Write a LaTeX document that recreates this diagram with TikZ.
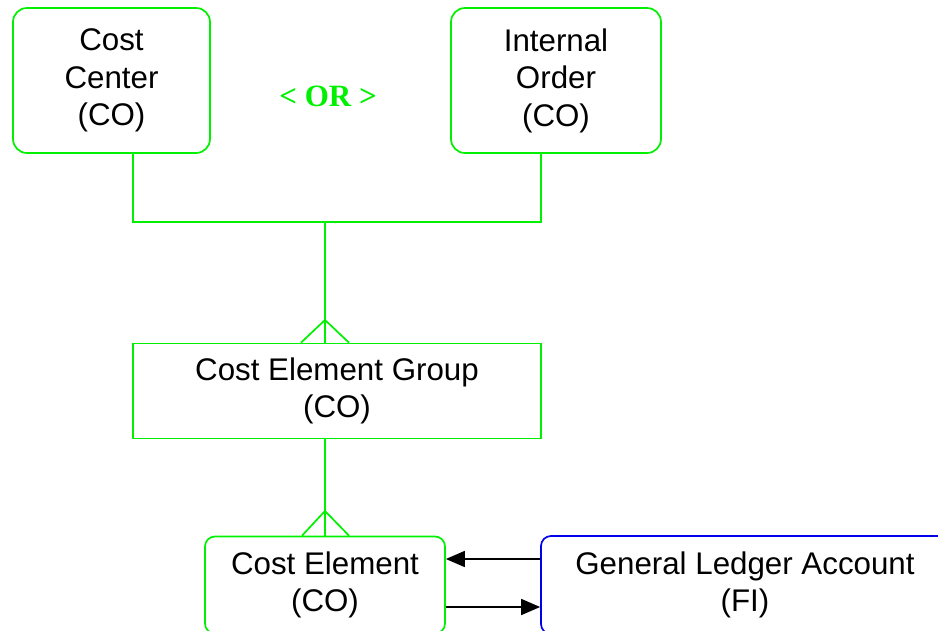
\documentclass[tikz,border=0pt]{standalone}
\usepackage{fontspec}
\setmainfont{Liberation Sans}
\newfontfamily\orfont{Liberation Serif}
\usetikzlibrary{arrows.meta}
\definecolor{erdgreen}{RGB}{0,240,0}
\definecolor{erdblue}{RGB}{0,0,235}
\tikzset{
  ent/.style={draw=erdgreen, line width=1.7pt, align=center, inner sep=0pt,
    font=\fontsize{31.3}{37.5}\selectfont, text=black},
  rnd/.style={rounded corners=14pt},
  link/.style={draw=erdgreen, line width=1.7pt},
  rel/.style={draw=black, line width=1.6pt, -{Triangle[length=19pt,width=16pt]}}
}
\begin{document}
\begin{tikzpicture}[x=1pt,y=-1pt]
\useasboundingbox (0,0) rectangle (938,630);
\clip (0,0) rectangle (938,630);
\node[ent, rnd, minimum width=197pt, minimum height=145pt] (cc) at (111.5,80.5) {Cost\\Center\\(CO)};
\node[ent, rnd, minimum width=210pt, minimum height=145pt] (io) at (556,80.5) {Internal\\Order\\(CO)};
\node[font=\orfont\bfseries\fontsize{31}{36}\selectfont, text=erdgreen] (or) at (328,96) {< OR >};
\node[ent, minimum width=408pt, minimum height=95pt] (ceg) at (337,391) {Cost Element Group\\(CO)};
\node[ent, rounded corners=10pt, minimum width=240pt, minimum height=97pt] (ce) at (325,585) {Cost Element\\(CO)};
\node[ent, draw=erdblue, rounded corners=10pt, minimum width=408pt, minimum height=98pt] (gl) at (745,585) {General Ledger Account\\(FI)};
\coordinate (j) at (325,222);
\coordinate (a1) at (325,320);
\coordinate (a2) at (325,511);
\draw[link] ([xshift=21.5pt]cc.south) |- (j) -| ([xshift=-15pt]io.south);
\draw[link] (j) -- ([xshift=-12pt]ceg.north);
\draw[link] ([xshift=-36pt]ceg.north) -- (a1) -- ([xshift=12pt]ceg.north);
\draw[link] ([xshift=-12pt]ceg.south) -- (ce.north);
\draw[link] ([xshift=-23pt]ce.north) -- (a2) -- ([xshift=24pt]ce.north);
\draw[rel] ([yshift=26pt]gl.west) -- ([yshift=26pt]ce.east);
\draw[rel] ([yshift=-22pt]ce.east) -- ([yshift=-22pt]gl.west);
\end{tikzpicture}
\end{document}
